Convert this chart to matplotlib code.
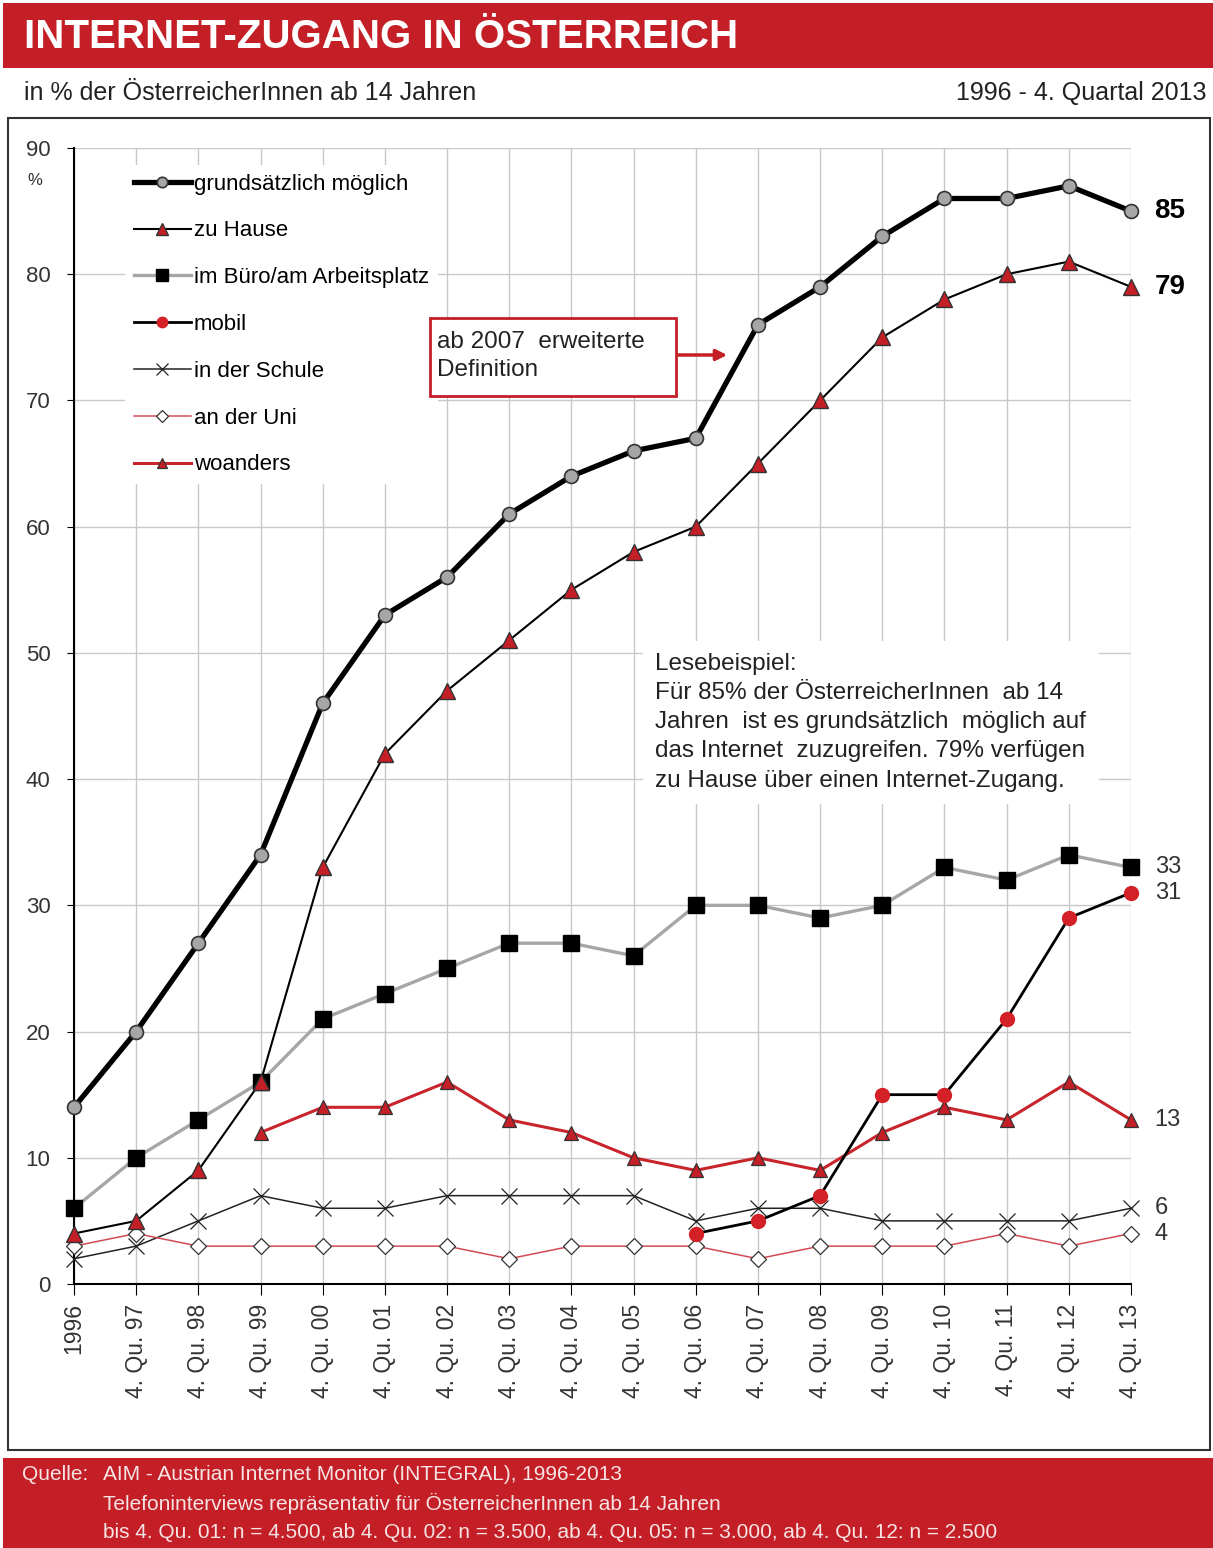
import numpy as np
import matplotlib
matplotlib.use('Agg')
import matplotlib.pyplot as plt
from matplotlib.patches import Rectangle

plt.rcParams['font.family'] = ['Liberation Sans', 'DejaVu Sans']

# Data (in % of Austrians aged 14+)
x_labels = ['1996', '4. Qu. 97', '4. Qu. 98', '4. Qu. 99', '4. Qu. 00', '4. Qu. 01',
            '4. Qu. 02', '4. Qu. 03', '4. Qu. 04', '4. Qu. 05', '4. Qu. 06', '4. Qu. 07',
            '4. Qu. 08', '4. Qu. 09', '4. Qu. 10', '4. Qu. 11', '4. Qu. 12', '4. Qu. 13']
nan = np.nan
grundsaetzlich = [14, 20, 27, 34, 46, 53, 56, 61, 64, 66, 67, 76, 79, 83, 86, 86, 87, 85]
zu_hause = [4, 5, 9, 16, 33, 42, 47, 51, 55, 58, 60, 65, 70, 75, 78, 80, 81, 79]
buero = [6, 10, 13, 16, 21, 23, 25, 27, 27, 26, 30, 30, 29, 30, 33, 32, 34, 33]
mobil = [nan, nan, nan, nan, nan, nan, nan, nan, nan, nan, 4, 5, 7, 15, 15, 21, 29, 31]
schule = [2, 3, 5, 7, 6, 6, 7, 7, 7, 7, 5, 6, 6, 5, 5, 5, 5, 6]
uni = [3, 4, 3, 3, 3, 3, 3, 2, 3, 3, 3, 2, 3, 3, 3, 4, 3, 4]
woanders = [nan, nan, nan, 12, 14, 14, 16, 13, 12, 10, 9, 10, 9, 12, 14, 13, 16, 13]

RED = '#c41e26'
W, H = 1213, 1548


def fx(x):
    return x / W


def fy(y):
    return 1 - y / H


fig = plt.figure(figsize=(W / 100, H / 100), dpi=100)

# header / footer bands and chart frame
fig.patches.append(Rectangle((fx(3), fy(68)), fx(1210), 65 / H, transform=fig.transFigure,
                             facecolor=RED, edgecolor='none'))
fig.patches.append(Rectangle((fx(3), fy(1548)), fx(1210), 90 / H, transform=fig.transFigure,
                             facecolor=RED, edgecolor='none'))
fig.patches.append(Rectangle((fx(8), fy(1450)), fx(1202), 1332 / H, transform=fig.transFigure,
                             facecolor='none', edgecolor='#333333', lw=1.5))

fig.text(fx(24), fy(37), 'INTERNET-ZUGANG IN ÖSTERREICH', color='white', fontsize=29,
         fontweight='bold', va='center', ha='left')
fig.text(fx(24), fy(93), 'in % der ÖsterreicherInnen ab 14 Jahren', fontsize=18,
         color='#222222', va='center')
fig.text(fx(1206), fy(93), '1996 - 4. Quartal 2013', fontsize=18, color='#222222',
         va='center', ha='right')

foot = ['AIM - Austrian Internet Monitor (INTEGRAL), 1996-2013',
        'Telefoninterviews repräsentativ für ÖsterreicherInnen ab 14 Jahren',
        'bis 4. Qu. 01: n = 4.500, ab 4. Qu. 02: n = 3.500, ab 4. Qu. 05: n = 3.000, ab 4. Qu. 12: n = 2.500']
fig.text(fx(22), fy(1474), 'Quelle:', color='#f6e4e4', fontsize=15, va='center')
for i, line in enumerate(foot):
    fig.text(fx(103), fy(1474 + 29.5 * i), line, color='#f6e4e4', fontsize=15, va='center')

ax = fig.add_axes([fx(74), fy(1284), fx(1131 - 74), (1284 - 148) / H])
xs = np.arange(len(x_labels))

ax.plot(xs, grundsaetzlich, color='black', lw=3.8, marker='o', ms=10,
        mfc='#a6a6a6', mec='#333333', mew=1.2, label='grundsätzlich möglich', clip_on=False, zorder=6)
ax.plot(xs, zu_hause, color='black', lw=1.5, marker='^', ms=11,
        mfc=RED, mec='#333333', mew=1, label='zu Hause', clip_on=False, zorder=5)
ax.plot(xs, buero, color='#a6a6a6', lw=2.4, marker='s', ms=11,
        mfc='black', mec='black', label='im Büro/am Arbeitsplatz', clip_on=False, zorder=4)
ax.plot(xs, mobil, color='black', lw=2, marker='o', ms=10,
        mfc='#d42027', mec='#d42027', label='mobil', clip_on=False, zorder=5)
ax.plot(xs, schule, color='#222222', lw=1.1, marker='x', ms=11, mew=0.9,
        label='in der Schule', clip_on=False, zorder=3)
ax.plot(xs, uni, color='#d24a55', lw=1.1, marker='D', ms=8,
        mfc='white', mec='#333333', mew=0.9, label='an der Uni', clip_on=False, zorder=3)
ax.plot(xs, woanders, color='#c8242c', lw=2.2, marker='^', ms=10,
        mfc=RED, mec='#333333', mew=0.9, label='woanders', clip_on=False, zorder=4)

ax.set_xlim(0, 17)
ax.set_ylim(0, 90)
ax.set_yticks(range(0, 91, 10))
ax.set_xticks(xs)
ax.set_xticklabels(x_labels, rotation=90, ha='center', va='top', fontsize=16.5, color='#333333')
ax.tick_params(axis='y', labelsize=16, labelcolor='#333333', length=5, direction='out', pad=12)
ax.tick_params(axis='x', length=8, direction='out', pad=6)
ax.grid(True, color='#c8c8c8', lw=1)
ax.set_axisbelow(True)
for s in ['top', 'right']:
    ax.spines[s].set_visible(False)
ax.spines['left'].set_linewidth(1.5)
ax.spines['bottom'].set_linewidth(1.5)
ax.text(-0.63, 87.4, '%', fontsize=12, color='#333333', ha='center', va='center')

leg = ax.legend(loc='upper left', bbox_to_anchor=(0.0375, 0.995), fontsize=16,
                handlelength=2.57, handletextpad=0.14, labelspacing=1.16, frameon=True,
                borderpad=0.4, markerscale=0.75)
leg.get_frame().set_facecolor('white')
leg.get_frame().set_edgecolor('none')
leg.get_frame().set_alpha(1)
leg.set_zorder(10)

# end value labels
for val, bold in [(85, True), (79, True), (33, False), (31, False), (13, False), (6, False), (4, False)]:
    ax.annotate(str(val), xy=(17, val), xytext=(17, 0), textcoords='offset points',
                va='center', ha='left', annotation_clip=False,
                fontsize=20 if bold else 17, fontweight='bold' if bold else 'normal',
                color='black' if bold else '#333333')

# annotation box "ab 2007 erweiterte Definition"
ax.add_patch(Rectangle((5.725, 70.36), 3.955, 6.19, facecolor='white', edgecolor=RED,
                       lw=2, zorder=12))
ax.text(5.84, 73.5, 'ab 2007  erweiterte\nDefinition', fontsize=17.5, color='#222222',
        ha='left', va='center', linespacing=1.35, zorder=13)
ax.annotate('', xy=(10.55, 73.6), xytext=(9.68, 73.6),
            arrowprops=dict(arrowstyle='-|>', color=RED, lw=2.5, mutation_scale=16), zorder=13)

ax.text(9.35, 44.5, 'Lesebeispiel:\nFür 85% der ÖsterreicherInnen  ab 14\nJahren  ist es grundsätzlich  möglich auf\n'
        'das Internet  zuzugreifen. 79% verfügen\nzu Hause über einen Internet-Zugang.',
        fontsize=17.5, color='#222222', ha='left', va='center', linespacing=1.42, zorder=8,
        bbox=dict(facecolor='white', edgecolor='none', pad=9))

fig.savefig('out.png', dpi=100)
